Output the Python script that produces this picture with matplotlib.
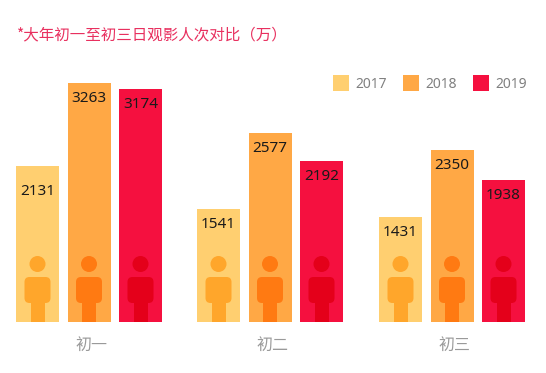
import matplotlib
matplotlib.use('Agg')
import matplotlib.pyplot as plt
from matplotlib.patches import Circle, FancyBboxPatch, Rectangle

plt.rcParams['font.family'] = ['Noto Sans CJK SC', 'DejaVu Sans']

categories = ['初一', '初二', '初三']
years = ['2017', '2018', '2019']
values_2017 = [2131, 1541, 1431]
values_2018 = [3263, 2577, 2350]
values_2019 = [3174, 2192, 1938]
title = '*大年初一至初三日观影人次对比（万）'

colors = ['#FFCF70', '#FFA845', '#F5103F']
icon_colors = ['#FFA62B', '#FF7A12', '#E4001A']

W, H = 546, 373
base_y = 322
scale = 0.0733  # 每万人次对应的像素

fig = plt.figure(figsize=(W / 100, H / 100), dpi=100)

# 柱子的坐标轴，底边就是基线
ax = fig.add_axes([0, (H - base_y) / H, 1, base_y / H])
ax.set_xlim(0, W)
ax.set_ylim(0, base_y / scale)
ax.axis('off')

# 图标和文字用像素坐标的覆盖层
over = fig.add_axes([0, 0, 1, 1])
over.set_xlim(0, W)
over.set_ylim(H, 0)
over.axis('off')
over.patch.set_alpha(0)

centers = [89, 270, 452]
offsets = [-51.5, 0, 51.5]
bar_w = 43


def draw_person(cx, color):
    over.add_patch(Circle((cx, 264), 8, color=color, lw=0))
    over.add_patch(FancyBboxPatch((cx - 13, 277), 26, 26,
                                  boxstyle='round,pad=0,rounding_size=5', fc=color, ec='none', lw=0))
    over.add_patch(Rectangle((cx - 7, 300), 14, base_y - 300, color=color, lw=0))


series = [values_2017, values_2018, values_2019]
for s, vals in enumerate(series):
    xs = [c + offsets[s] for c in centers]
    ax.bar(xs, vals, width=bar_w, color=colors[s], lw=0)
    for x, v in zip(xs, vals):
        draw_person(x, icon_colors[s])
        # 2131 这个数字在原图里放得更低
        dy = 26 if v == 2131 else 15.5
        over.text(x, base_y - v * scale + dy, str(v), ha='center', va='center',
                  fontsize=11, color='#1a1a1a', family='Noto Sans')

for c, name in zip(centers, categories):
    over.text(c + 2, 345, name, ha='center', va='center', fontsize=11.5, color='#9a9a9a')

over.text(17, 35, title, ha='left', va='center', fontsize=11.2, color='#E8305F')

# 图例
for x, y_name, col in zip([333, 403, 473], years, colors):
    over.add_patch(Rectangle((x, 75), 16, 16, color=col, lw=0))
    over.text(x + 22, 84, y_name, ha='left', va='center', fontsize=10, color='#808080',
              family='Noto Sans')

fig.savefig('out.png', dpi=100)
